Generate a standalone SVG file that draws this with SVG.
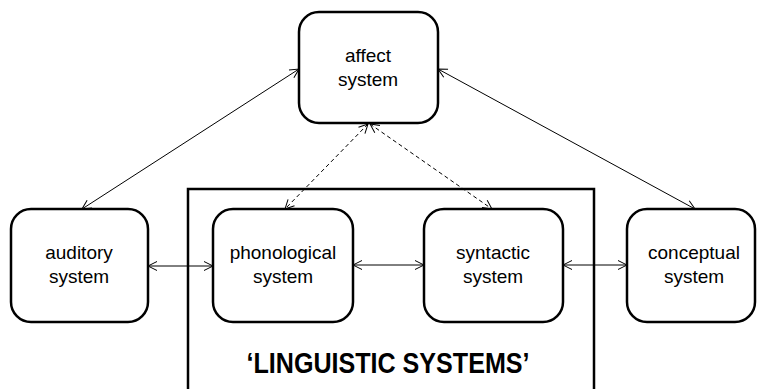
<svg xmlns="http://www.w3.org/2000/svg" width="757" height="389" viewBox="0 0 757 389">
  <style>
    .box { fill: #ffffff; stroke: #000000; stroke-width: 2.5; }
    .lbl { font-family: "Liberation Sans", Arial, sans-serif; font-size: 19px; fill: #000000; text-anchor: middle; }
    .title { font-family: "Liberation Sans", Arial, sans-serif; font-size: 29px; font-weight: bold; fill: #000000; text-anchor: middle; }
    .frame { fill: none; stroke: #000000; stroke-width: 2.5; }
    .conn { fill: none; stroke: #000000; stroke-width: 1; }
    .dash { stroke-dasharray: 4 3; }
  </style>
  <defs>
    <marker id="arr" markerUnits="userSpaceOnUse" markerWidth="12" markerHeight="12" refX="10" refY="6" orient="auto-start-reverse">
      <path d="M1,1.5 L10,6 L1,10.5" fill="none" stroke="#000000" stroke-width="1"/>
    </marker>
  </defs>

  <g id="linguistic-systems">
    <path class="frame" d="M188,392 V189 H594 V392"/>
    <text class="title" x="388" y="373" textLength="283" lengthAdjust="spacingAndGlyphs">‘LINGUISTIC SYSTEMS’</text>
  </g>

  <g id="connectors">
    <line class="conn" x1="148" y1="266" x2="213" y2="266" marker-start="url(#arr)" marker-end="url(#arr)"/>
    <line class="conn" x1="353" y1="265" x2="424" y2="265" marker-start="url(#arr)" marker-end="url(#arr)"/>
    <line class="conn" x1="563" y1="265" x2="627" y2="265" marker-start="url(#arr)" marker-end="url(#arr)"/>
    <line class="conn" x1="82" y1="209" x2="299" y2="69" marker-start="url(#arr)" marker-end="url(#arr)"/>
    <line class="conn" x1="438" y1="69" x2="695" y2="209" marker-start="url(#arr)" marker-end="url(#arr)"/>
    <line class="conn dash" x1="368" y1="124" x2="285" y2="209" marker-start="url(#arr)" marker-end="url(#arr)"/>
    <line class="conn dash" x1="370" y1="124" x2="492" y2="209" marker-start="url(#arr)" marker-end="url(#arr)"/>
  </g>

  <g id="affect">
    <rect class="box" x="299" y="12" width="139" height="111" rx="20" ry="20"/>
    <text class="lbl" x="368" y="62">affect</text>
    <text class="lbl" x="368" y="86">system</text>
  </g>

  <g id="auditory">
    <rect class="box" x="11" y="209" width="137" height="113" rx="20" ry="20"/>
    <text class="lbl" x="79" y="259">auditory</text>
    <text class="lbl" x="79" y="283">system</text>
  </g>

  <g id="phonological">
    <rect class="box" x="213" y="209" width="140" height="113" rx="20" ry="20"/>
    <text class="lbl" x="283" y="259">phonological</text>
    <text class="lbl" x="283" y="283">system</text>
  </g>

  <g id="syntactic">
    <rect class="box" x="424" y="209" width="139" height="113" rx="20" ry="20"/>
    <text class="lbl" x="493" y="259">syntactic</text>
    <text class="lbl" x="493" y="283">system</text>
  </g>

  <g id="conceptual">
    <rect class="box" x="627" y="209" width="128" height="113" rx="20" ry="20"/>
    <text class="lbl" x="694" y="259">conceptual</text>
    <text class="lbl" x="694" y="283">system</text>
  </g>
</svg>
